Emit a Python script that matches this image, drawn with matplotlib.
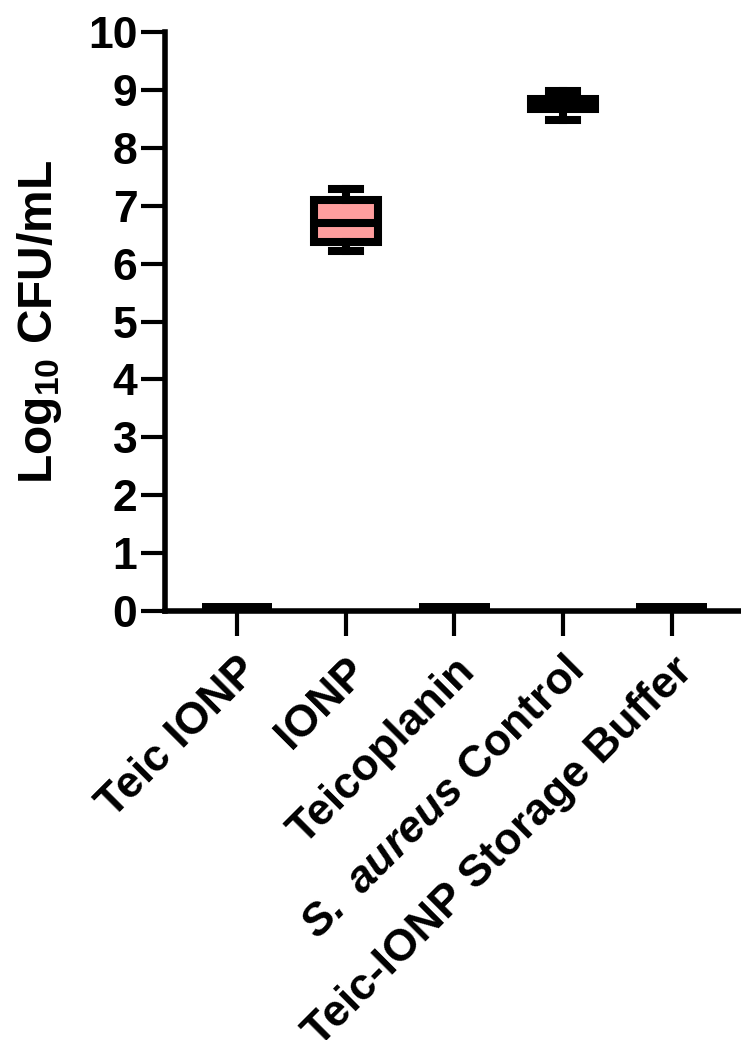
import matplotlib
matplotlib.use("Agg")
import matplotlib.pyplot as plt

categories = ["Teic IONP", "IONP", "Teicoplanin", r"$\mathbfit{S.\ aureus}$ Control", "Teic-IONP Storage Buffer"]
whisker_low = [0.0, 6.22, 0.0, 8.48, 0.0]
q1 = [0.0, 6.38, 0.0, 8.67, 0.0]
median = [0.0, 6.71, 0.0, 8.76, 0.0]
q3 = [0.0, 7.10, 0.0, 8.84, 0.0]
whisker_high = [0.0, 7.29, 0.0, 8.98, 0.0]
box_colors = ["#000000", "#FF9E9E", "#000000", "#000000", "#000000"]
yticks = list(range(0, 11))

plt.rcParams['font.family'] = ['Liberation Sans', 'DejaVu Sans']
plt.rcParams['font.weight'] = 'bold'
plt.rcParams['mathtext.fontset'] = 'custom'
plt.rcParams['mathtext.rm'] = 'Liberation Sans:bold'
plt.rcParams['mathtext.bf'] = 'Liberation Sans:bold'
plt.rcParams['mathtext.it'] = 'Liberation Sans:bold:italic'
plt.rcParams['mathtext.bfit'] = 'Liberation Sans:bold:italic'

fig = plt.figure(figsize=(7.41, 10.40), dpi=100)
ax = fig.add_axes([0.223, 0.4125, 0.776, 0.5567])

stats = []
for i, c in enumerate(categories):
    stats.append(dict(med=median[i], q1=q1[i], q3=q3[i],
                      whislo=whisker_low[i], whishi=whisker_high[i], label=c))

lw = 5.8
bp = ax.bxp(stats, positions=range(len(categories)), widths=0.59, capwidths=0.26,
            showfliers=False, patch_artist=True,
            boxprops=dict(linewidth=lw, edgecolor='black'),
            medianprops=dict(linewidth=lw, color='black'),
            whiskerprops=dict(linewidth=lw, color='black'),
            capprops=dict(linewidth=lw, color='black'))
for i, (patch, col) in enumerate(zip(bp['boxes'], box_colors)):
    patch.set_facecolor(col)
    patch.set_joinstyle('miter')
    if q3[i] == q1[i]:
        # degenerate box at zero: draw as a thick bar half-hidden by the axis
        patch.set_joinstyle('bevel')
        patch.set_linewidth(11.5)
        bp['medians'][i].set_visible(False)
        for artist in bp['whiskers'][2 * i:2 * i + 2] + bp['caps'][2 * i:2 * i + 2]:
            artist.set_visible(False)
        verts = patch.get_path().vertices
        xs = verts[:, 0]
        cx = (xs.min() + xs.max()) / 2
        patch.get_path().vertices[:, 0] = cx + (xs - cx) * (0.65 / 0.59)

ax.set_xlim(-0.66, 4.63)
ax.set_ylim(0, 10)
ax.set_yticks(yticks)
ax.set_yticklabels([str(t) for t in yticks], fontsize=32, fontweight='bold')
ax.set_xticks(range(len(categories)))
ax.set_xticklabels(categories, fontsize=32, fontweight='bold', rotation=45,
                   ha='right', rotation_mode='anchor')
ax.tick_params(axis='y', length=17, width=3, pad=3)
ax.tick_params(axis='x', length=18, width=3, pad=10)
for s in ['top', 'right']:
    ax.spines[s].set_visible(False)
for s in ['left', 'bottom']:
    ax.spines[s].set_linewidth(4)
ax.set_ylabel(r'Log$_{\mathbf{10}}$ CFU/mL', fontsize=34.5, fontweight='bold', labelpad=17)

fig.savefig('out.png', dpi=100)
